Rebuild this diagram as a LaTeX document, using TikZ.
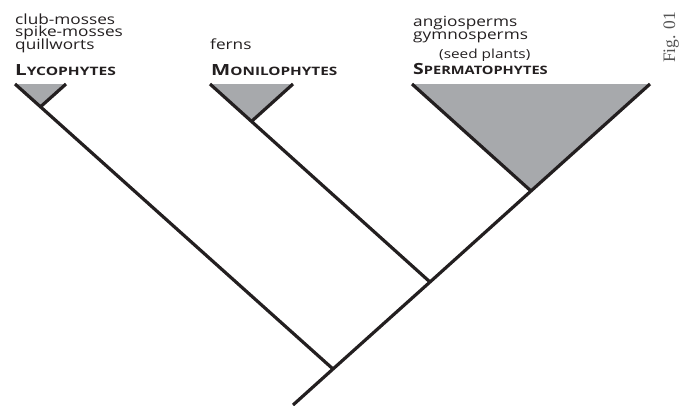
\documentclass[tikz,border=0pt]{standalone}
\usepackage{fontspec}
\usepackage{graphicx}
\setmainfont{Open Sans}
\newfontfamily\figfont{Liberation Serif}
\definecolor{trigray}{HTML}{A7A9AC}
\definecolor{figgray}{HTML}{555555}
\definecolor{inkblack}{HTML}{231F20}
\tikzset{
  branch/.style={line width=3.2pt, inkblack, line cap=butt},
  clade/.style={fill=trigray, draw=none},
  lbl/.style={anchor=base west, inner sep=0pt, text=inkblack, font=\fontsize{14}{12.5}\selectfont},
  grp/.style={anchor=base west, inner sep=0pt, text=inkblack, font=\bfseries},
}
\newcommand{\grpname}[3]{\scalebox{#1}[1]{{\fontsize{15.4}{15}\selectfont #2}{\fontsize{11.6}{15}\selectfont #3}}}
\newcommand{\sx}[1]{\scalebox{1.23}[1]{#1}}
\begin{document}
\begin{tikzpicture}[x=1pt,y=1pt]
\useasboundingbox (0,0) rectangle (682,-405);
% coordinates
\coordinate (root) at (293,-405);
\coordinate (j1) at (333,-369);
\coordinate (j2) at (430,-282);
\coordinate (j3) at (531,-191);
\coordinate (L1) at (15,-84);
\coordinate (L2) at (66,-84);
\coordinate (La) at (40.5,-106.8);
\coordinate (M1) at (210,-84);
\coordinate (M2) at (293,-84);
\coordinate (Ma) at (251.5,-121.4);
\coordinate (S1) at (412,-84);
\coordinate (S2) at (650,-84);
% clades
\fill[clade] (L1) -- (L2) -- (La) -- cycle;
\fill[clade] (M1) -- (M2) -- (Ma) -- cycle;
\fill[clade] (S1) -- (S2) -- (j3) -- cycle;
% branches
\draw[branch] (root) -- (j1) -- (j2) -- (j3) -- (S2);
\draw[branch] (L1) -- (La) -- (j1);
\draw[branch] (L2) -- (La);
\draw[branch] (M1) -- (Ma) -- (j2);
\draw[branch] (M2) -- (Ma);
\draw[branch] (S1) -- (j3);
% labels
\node[lbl] (t1) at (15,-24) {\sx{club-mosses}};
\node[lbl] (t2) at (15,-36.5) {\sx{spike-mosses}};
\node[lbl] (t3) at (15,-49) {\sx{quillworts}};
\node[grp] (g1) at (15,-75) {\grpname{1.34}{L}{YCOPHYTES}};
\node[lbl] (t4) at (210,-49) {\sx{ferns}};
\node[grp] (g2) at (211,-75) {\grpname{1.32}{M}{ONILOPHYTES}};
\node[lbl] (t5) at (413,-26) {\sx{angiosperms}};
\node[lbl] (t6) at (413,-39) {\sx{gymnosperms}};
\node[lbl,font=\fontsize{12.5}{12.5}\selectfont] (t7) at (439,-58) {\sx{(seed plants)}};
\node[grp] (g3) at (413,-74) {\grpname{1.26}{S}{PERMATOPHYTES}};
\node[anchor=base west, inner sep=0pt, rotate=90, text=figgray, font=\figfont\fontsize{17.5}{17.5}\selectfont] (fig) at (675,-63) {Fig. 01};
\end{tikzpicture}
\end{document}
